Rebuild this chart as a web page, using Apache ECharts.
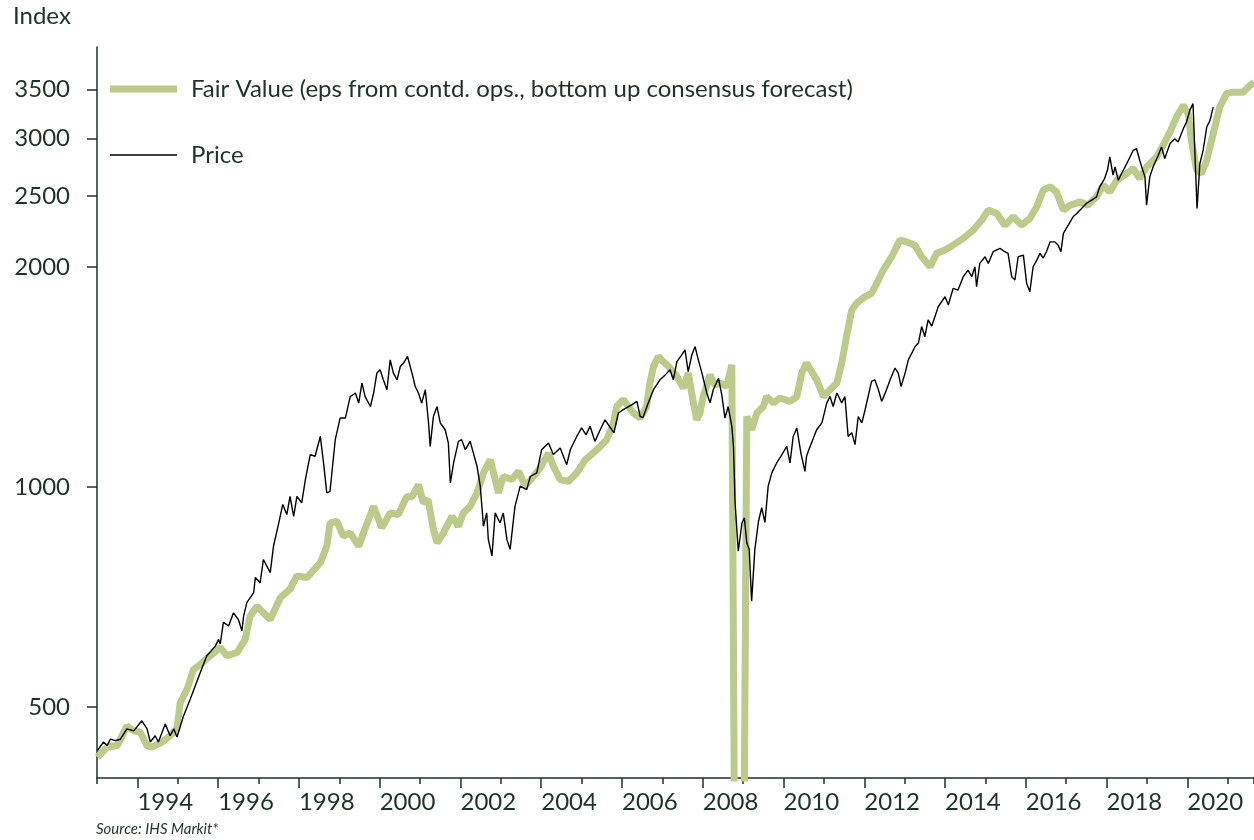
<!DOCTYPE html>
<html>
<head>
<meta charset="utf-8">
<script src="https://cdn.jsdelivr.net/npm/echarts@6/dist/echarts.min.js"></script>
<style>
html,body{margin:0;padding:0;background:#fff;}
#chart{width:1254px;height:840px;}
</style>
</head>
<body>
<div id="chart"></div>
<script>
// ---- data (decimal year, index level) ----
const fairValueName = 'Fair Value (eps from contd. ops., bottom up consensus forecast)';
const priceName = 'Price';
const yTickValues = [500, 1000, 2000, 2500, 3000, 3500];
const xLabelYears = [1994, 1996, 1998, 2000, 2002, 2004, 2006, 2008, 2010, 2012, 2014, 2016, 2018, 2020];

const priceData = [
[1993.01,436],[1993.16,448],[1993.25,443],[1993.33,452],[1993.45,450],[1993.58,452],[1993.74,467],[1993.91,464],
[1994.11,479],[1994.24,467],[1994.32,448],[1994.44,457],[1994.52,448],[1994.69,474],[1994.81,457],[1994.90,467],[1994.98,455],
[1995.14,486],[1995.31,513],[1995.56,558],[1995.72,588],[1995.93,606],[1996.01,619],[1996.05,610],[1996.13,653],[1996.26,646],
[1996.38,673],[1996.50,659],[1996.59,636],[1996.63,666],[1996.71,695],[1996.88,717],[1996.92,752],[1997.04,740],[1997.12,796],
[1997.29,764],[1997.37,830],[1997.50,893],[1997.60,947],[1997.70,917],[1997.78,971],[1997.87,912],[1997.95,971],[1998.07,952],
[1998.16,1024],[1998.28,1108],[1998.40,1102],[1998.53,1173],[1998.61,1079],[1998.69,982],[1998.77,987],[1998.90,1161],
[1999.02,1243],[1999.15,1243],[1999.27,1330],[1999.40,1345],[1999.48,1303],[1999.56,1388],[1999.64,1330],[1999.77,1289],
[1999.85,1345],[1999.93,1432],[2000.01,1447],[2000.09,1402],[2000.18,1359],[2000.26,1493],[2000.34,1432],[2000.43,1402],
[2000.51,1462],[2000.59,1478],[2000.69,1509],[2000.80,1432],[2000.88,1373],[2000.96,1345],[2001.04,1303],[2001.13,1359],
[2001.21,1224],[2001.25,1137],[2001.33,1249],[2001.42,1289],[2001.50,1224],[2001.62,1198],[2001.70,1149],[2001.75,1013],
[2001.83,1079],[2001.95,1155],[2002.03,1161],[2002.12,1125],[2002.24,1155],[2002.41,1068],[2002.49,1003],[2002.57,884],
[2002.65,922],[2002.69,848],[2002.78,805],[2002.86,922],[2002.98,893],[2003.06,922],[2003.15,848],[2003.23,822],[2003.35,941],
[2003.48,1003],[2003.64,992],[2003.73,1034],[2003.89,1046],[2004.01,1125],[2004.18,1149],[2004.30,1108],[2004.47,1131],
[2004.63,1073],[2004.72,1125],[2004.88,1173],[2005.00,1205],[2005.11,1179],[2005.21,1211],[2005.33,1155],[2005.46,1198],
[2005.58,1236],[2005.80,1186],[2005.91,1263],[2006.03,1276],[2006.24,1296],[2006.37,1310],[2006.45,1249],[2006.52,1245],
[2006.65,1303],[2006.78,1359],[2006.94,1402],[2007.07,1424],[2007.19,1447],[2007.27,1402],[2007.36,1485],[2007.48,1517],
[2007.56,1541],[2007.64,1439],[2007.73,1517],[2007.81,1557],[2007.89,1493],[2007.98,1432],[2008.10,1345],[2008.18,1304],
[2008.26,1359],[2008.39,1409],[2008.47,1338],[2008.55,1243],[2008.63,1289],[2008.72,1211],[2008.76,1137],[2008.80,952],
[2008.88,817],[2008.97,893],[2009.03,908],[2009.09,839],[2009.15,822],[2009.21,698],[2009.29,822],[2009.38,898],[2009.46,937],
[2009.54,895],[2009.62,1003],[2009.71,1046],[2009.83,1079],[2009.96,1108],[2010.08,1137],[2010.16,1079],[2010.24,1173],
[2010.33,1205],[2010.43,1113],[2010.53,1051],[2010.57,1102],[2010.61,1119],[2010.82,1198],[2010.95,1224],[2011.07,1303],
[2011.15,1330],[2011.23,1289],[2011.32,1345],[2011.44,1304],[2011.52,1330],[2011.60,1173],[2011.69,1187],[2011.77,1143],
[2011.85,1249],[2011.94,1224],[2012.02,1276],[2012.18,1395],[2012.26,1402],[2012.35,1359],[2012.43,1310],[2012.55,1359],
[2012.64,1402],[2012.76,1455],[2012.84,1433],[2012.91,1373],[2013.01,1432],[2013.09,1493],[2013.26,1557],[2013.34,1574],
[2013.42,1658],[2013.50,1607],[2013.58,1693],[2013.67,1661],[2013.75,1711],[2013.83,1765],[2014.00,1822],[2014.08,1775],
[2014.20,1870],[2014.32,1860],[2014.45,1940],[2014.57,1981],[2014.66,1940],[2014.74,2002],[2014.78,1880],[2014.86,2023],
[2014.99,2066],[2015.07,2023],[2015.19,2099],[2015.36,2121],[2015.48,2099],[2015.56,2088],[2015.65,1940],[2015.73,1920],
[2015.81,2066],[2015.94,2077],[2016.02,1900],[2016.10,1851],[2016.18,2002],[2016.27,2044],[2016.35,2088],[2016.43,2058],
[2016.51,2099],[2016.60,2165],[2016.72,2165],[2016.80,2143],[2016.87,2099],[2016.93,2224],[2017.05,2282],[2017.17,2343],
[2017.26,2368],[2017.38,2405],[2017.50,2444],[2017.63,2469],[2017.75,2495],[2017.83,2575],[2017.95,2643],[2018.02,2713],
[2018.08,2829],[2018.16,2671],[2018.21,2741],[2018.29,2629],[2018.37,2685],[2018.50,2771],[2018.58,2829],[2018.66,2889],
[2018.74,2905],[2018.82,2800],[2018.87,2741],[2018.95,2657],[2018.99,2430],[2019.07,2657],[2019.15,2741],[2019.28,2844],
[2019.36,2919],[2019.44,2815],[2019.57,2951],[2019.69,2997],[2019.77,2965],[2019.90,3093],[2019.98,3158],[2020.06,3276],
[2020.14,3346],[2020.19,2829],[2020.24,2405],[2020.31,2771],[2020.39,2889],[2020.48,3109],[2020.56,3175],[2020.64,3310]
];

const fairValueData = [
[1993.01,427],[1993.25,441],[1993.50,443],[1993.74,471],[1993.91,464],[1994.07,462],[1994.24,443],[1994.36,441],[1994.61,448],
[1994.81,457],[1994.98,467],[1995.06,507],[1995.23,529],[1995.39,563],[1995.56,572],[1995.80,588],[1996.05,603],[1996.22,588],
[1996.47,594],[1996.67,619],[1996.79,666],[1996.96,687],[1997.12,673],[1997.29,659],[1997.54,706],[1997.78,725],[1997.95,756],
[1998.20,752],[1998.53,788],[1998.69,830],[1998.77,893],[1998.94,898],[1999.10,857],[1999.27,866],[1999.48,830],[1999.60,866],
[1999.85,941],[2000.05,880],[2000.26,922],[2000.46,917],[2000.67,971],[2000.80,970],[2000.96,1008],[2001.08,952],[2001.20,961],
[2001.33,875],[2001.42,839],[2001.58,866],[2001.79,912],[2001.95,884],[2002.07,922],[2002.24,941],[2002.41,982],[2002.57,1046],
[2002.74,1090],[2002.86,1024],[2002.94,982],[2003.06,1034],[2003.27,1024],[2003.44,1051],[2003.60,1003],[2003.81,1034],
[2003.97,1062],[2004.18,1113],[2004.30,1068],[2004.47,1024],[2004.67,1018],[2004.88,1046],[2005.09,1090],[2005.21,1104],
[2005.38,1125],[2005.62,1161],[2005.79,1224],[2005.87,1289],[2006.03,1317],[2006.28,1263],[2006.45,1243],[2006.61,1289],
[2006.69,1388],[2006.78,1462],[2006.90,1509],[2007.02,1485],[2007.19,1455],[2007.36,1417],[2007.52,1366],[2007.64,1432],
[2007.77,1303],[2007.85,1236],[2007.93,1263],[2008.01,1330],[2008.18,1424],[2008.30,1380],[2008.43,1388],[2008.59,1373],
[2008.72,1470],[2008.84,100],[2008.96,100],[2009.09,1249],[2009.21,1198],[2009.34,1263],[2009.50,1289],[2009.58,1330],
[2009.75,1303],[2009.91,1324],[2010.16,1310],[2010.33,1330],[2010.45,1432],[2010.57,1478],[2010.82,1402],[2010.99,1330],
[2011.15,1359],[2011.32,1388],[2011.44,1478],[2011.56,1607],[2011.69,1747],[2011.81,1785],[2012.02,1822],[2012.18,1841],
[2012.31,1900],[2012.47,1981],[2012.68,2066],[2012.88,2177],[2013.05,2165],[2013.25,2143],[2013.42,2066],[2013.63,2002],
[2013.79,2088],[2014.00,2110],[2014.20,2143],[2014.45,2189],[2014.70,2247],[2014.91,2319],[2015.07,2393],[2015.28,2368],
[2015.48,2282],[2015.69,2343],[2015.90,2282],[2016.10,2331],[2016.27,2418],[2016.43,2548],[2016.60,2575],[2016.76,2534],
[2016.93,2393],[2017.10,2430],[2017.34,2456],[2017.54,2430],[2017.75,2495],[2017.92,2588],[2018.08,2534],[2018.25,2629],
[2018.50,2685],[2018.66,2728],[2018.82,2643],[2018.99,2741],[2019.24,2829],[2019.40,2935],[2019.57,3060],[2019.73,3208],
[2019.90,3328],[2020.02,3243],[2020.10,2981],[2020.23,2713],[2020.35,2685],[2020.48,2800],[2020.64,3045],[2020.80,3310],
[2020.97,3453],[2021.13,3470],[2021.38,3470],[2021.55,3544],[2021.65,3581]
];

// ---- styles ----
const ink = '#1c3326';
const green = '#bccb8a';
const font = 'Lato, "Open Sans", sans-serif';

const chart = echarts.init(document.getElementById('chart'), null, {renderer: 'canvas'});
chart.setOption({
  animation: false,
  backgroundColor: '#ffffff',
  textStyle: {fontFamily: font, color: ink},
  title: [
    {text: 'Index', left: 13, top: 4, padding: 0,
     textStyle: {fontFamily: font, fontSize: 24, fontWeight: 'normal', color: ink}},
    {text: 'Source: IHS Markit*', left: 96, top: 822, padding: 0,
     textStyle: {fontFamily: font, fontSize: 15, fontStyle: 'italic', fontWeight: 'normal', color: ink}}
  ],
  legend: [
    {data: [fairValueName], left: 110, top: 77, padding: 0, orient: 'vertical',
     icon: 'rect', itemWidth: 67, itemHeight: 7, selectedMode: false,
     textStyle: {fontFamily: font, fontSize: 24, color: ink, padding: [0, 0, 0, 9]}},
    {data: [priceName], left: 110, top: 143, padding: 0, orient: 'vertical',
     icon: 'rect', itemWidth: 67, itemHeight: 1.5, selectedMode: false,
     textStyle: {fontFamily: font, fontSize: 24, color: ink, padding: [0, 0, 0, 9]}}
  ],
  grid: {left: 97, right: 0, top: 47, bottom: 62, containLabel: false},
  xAxis: [
    {type: 'value', min: 1993, max: 2021.65, interval: 1,
     axisLine: {show: true, lineStyle: {color: ink, width: 1.5}},
     axisTick: {show: true, length: 6, lineStyle: {color: ink, width: 1.5}},
     axisLabel: {customValues: xLabelYears, align: 'left', margin: 12,
                 fontFamily: font, fontSize: 24, color: ink,
                 formatter: v => String(v)},
     splitLine: {show: false}},
    {type: 'value', min: 1993, max: 2021.65, gridIndex: 0, position: 'bottom',
     axisLine: {show: false},
     axisTick: {show: true, length: 10, customValues: xLabelYears, lineStyle: {color: ink, width: 1.5}},
     axisLabel: {show: false},
     splitLine: {show: false}}
  ],
  yAxis: {
    type: 'log', logBase: 10, min: 400, max: 4000,
    axisLine: {show: true, lineStyle: {color: ink, width: 1.5}},
    axisTick: {show: true, length: 10, customValues: yTickValues, lineStyle: {color: ink, width: 1.5}},
    axisLabel: {customValues: yTickValues, margin: 27, fontFamily: font, fontSize: 24, color: ink,
                formatter: v => String(Math.round(v))},
    splitLine: {show: false}
  },
  series: [
    {name: fairValueName, type: 'line', data: fairValueData, showSymbol: false, symbol: 'none',
     lineStyle: {color: green, width: 7}, itemStyle: {color: green}, z: 2, clip: true},
    {name: priceName, type: 'line', data: priceData, showSymbol: false, symbol: 'none',
     lineStyle: {color: '#000000', width: 1.4}, itemStyle: {color: '#000000'}, z: 3, clip: true}
  ]
});
</script>
</body>
</html>
